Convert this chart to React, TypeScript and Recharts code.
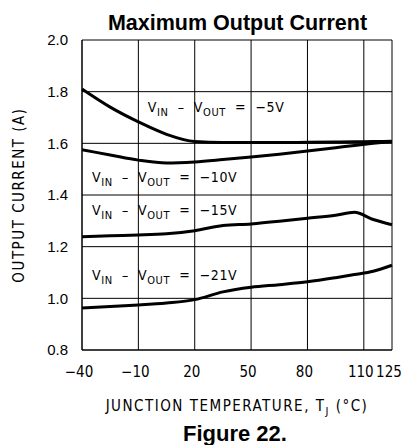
import { LineChart, Line, XAxis, YAxis, CartesianGrid, ReferenceDot } from 'recharts'

const temps = [-40, -25, -10, 5, 20, 35, 50, 65, 80, 95, 105, 115, 125]
const v5 = [1.81, 1.74, 1.683, 1.635, 1.607, 1.603, 1.603, 1.603, 1.604, 1.605, 1.606, 1.607, 1.608]
const v10 = [1.575, 1.555, 1.535, 1.524, 1.528, 1.537, 1.547, 1.558, 1.57, 1.583, 1.592, 1.6, 1.607]
const v15 = [1.238, 1.242, 1.245, 1.25, 1.262, 1.282, 1.288, 1.298, 1.31, 1.322, 1.333, 1.305, 1.285]
const v21 = [0.963, 0.968, 0.974, 0.982, 0.995, 1.025, 1.043, 1.053, 1.064, 1.08, 1.092, 1.105, 1.128]

const xTicks = [-40, -10, 20, 50, 80, 110, 125]
const yTicks = [0.8, 1.0, 1.2, 1.4, 1.6, 1.8, 2.0]

const curveLabels = [
  { t: -5, v: 1.721, text: '−5V' },
  { t: -34.7, v: 1.45, text: '−10V' },
  { t: -34.7, v: 1.323, text: '−15V' },
  { t: -34.7, v: 1.071, text: '−21V' },
]

const data = temps.map((t, i) => ({ t, v5: v5[i], v10: v10[i], v15: v15[i], v21: v21[i] }))

const narrow = "'DejaVu Sans Condensed', 'Liberation Sans Narrow', 'DejaVu Sans', sans-serif"
const arial = "'Liberation Sans', Arial, sans-serif"
const sp = '\u00a0'

function CurveLabel({ viewBox, text }: { viewBox?: { x: number; y: number }; text: string }) {
  if (!viewBox) return null
  return (
    <text x={viewBox.x} y={viewBox.y} fontFamily={narrow} fontSize={14} letterSpacing={0.6} fill="#000">
      V<tspan fontSize={11} dy={4}>IN</tspan>
      <tspan dy={-4}>{`${sp}${sp}–${sp}${sp}V`}</tspan>
      <tspan fontSize={11} dy={4}>OUT</tspan>
      <tspan dy={-4}>{`${sp}${sp}=${sp}${sp}${text}`}</tspan>
    </text>
  )
}

export default function App() {
  return (
    <div style={{ position: 'absolute', left: 0, top: 0, width: 407, height: 445 }}>
      <LineChart width={407} height={445} data={data} margin={{ top: 40, right: 15, bottom: 0, left: 0 }}>
        <CartesianGrid stroke="#000" strokeWidth={1} />
        <XAxis
          dataKey="t"
          type="number"
          domain={[-40, 125]}
          ticks={xTicks}
          interval={0}
          tickLine={false}
          axisLine={{ stroke: '#000' }}
          height={95}
          tickFormatter={(v: number) => (v < 0 ? `−${-v}` : `${v}`)}
          tick={{ fontFamily: narrow, fontSize: 15, fill: '#000', dx: -3 }}
          tickMargin={10}
        />
        <YAxis
          type="number"
          domain={[0.8, 2.0]}
          ticks={yTicks}
          tickFormatter={(v: number) => v.toFixed(1)}
          tickLine={false}
          axisLine={{ stroke: '#000' }}
          width={82}
          tick={{ fontFamily: arial, fontSize: 15, fill: '#000' }}
          tickMargin={8}
        />
        <Line dataKey="v5" type="monotone" stroke="#000" strokeWidth={3} dot={false} isAnimationActive={false} />
        <Line dataKey="v10" type="monotone" stroke="#000" strokeWidth={3} dot={false} isAnimationActive={false} />
        <Line dataKey="v15" type="monotone" stroke="#000" strokeWidth={3} dot={false} isAnimationActive={false} />
        <Line dataKey="v21" type="monotone" stroke="#000" strokeWidth={3} dot={false} isAnimationActive={false} />
        {curveLabels.map((c) => (
          <ReferenceDot
            key={c.text}
            x={c.t}
            y={c.v}
            r={0}
            fill="none"
            stroke="none"
            label={(p: any) => <CurveLabel viewBox={p.viewBox} text={c.text} />}
          />
        ))}
        <text x={237.5} y={30} textAnchor="middle" fontFamily={arial} fontWeight="bold" fontSize={21.5} fill="#000">
          Maximum Output Current
        </text>
        <text
          x={24}
          y={195}
          textAnchor="middle"
          fontFamily={narrow}
          fontSize={15}
          letterSpacing={1.5}
          fill="#000"
          transform="rotate(-90 24 195)"
        >
          OUTPUT CURRENT (A)
        </text>
        <text x={237} y={411} textAnchor="middle" fontFamily={narrow} fontSize={15} letterSpacing={1.5} fill="#000">
          JUNCTION TEMPERATURE, T<tspan fontSize={11} dy={4}>J</tspan>
          <tspan dy={-4}>{`${sp}(°C)`}</tspan>
        </text>
        <text x={235} y={441} textAnchor="middle" fontFamily={arial} fontWeight="bold" fontSize={22} fill="#000">
          Figure 22.
        </text>
      </LineChart>
    </div>
  )
}
